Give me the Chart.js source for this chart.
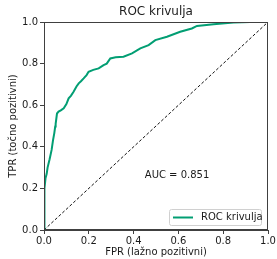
<!DOCTYPE html>
<html><head><meta charset="utf-8">
<script src="https://cdn.jsdelivr.net/npm/chart.js@4.4.0/dist/chart.umd.min.js"></script>
<style>html,body{margin:0;padding:0;background:#fff;}canvas{display:block;}</style>
</head><body>
<canvas id="c" width="277" height="259"></canvas>
<script>
const titleText = "ROC krivulja";
const xLabel = "FPR (lažno pozitivni)";
const yLabel = "TPR (točno pozitivni)";
const seriesLabel = "ROC krivulja";
const aucText = "AUC = 0.851";
const fpr = [0, 0, 0.004, 0.007, 0.012, 0.016, 0.025, 0.034, 0.04, 0.046, 0.05, 0.052, 0.058, 0.065, 0.075, 0.088, 0.10, 0.110, 0.12, 0.132, 0.145, 0.155, 0.165, 0.177, 0.19, 0.199, 0.22, 0.244, 0.266, 0.28, 0.296, 0.32, 0.355, 0.393, 0.43, 0.467, 0.497, 0.549, 0.608, 0.66, 0.683, 0.757, 0.846, 0.92, 1.0];
const tpr = [0, 0.13, 0.2, 0.25, 0.27, 0.30, 0.34, 0.385, 0.43, 0.466, 0.497, 0.51, 0.56, 0.569, 0.575, 0.585, 0.605, 0.633, 0.645, 0.665, 0.69, 0.705, 0.715, 0.729, 0.745, 0.761, 0.77, 0.777, 0.793, 0.80, 0.825, 0.83, 0.833, 0.849, 0.873, 0.889, 0.913, 0.929, 0.953, 0.969, 0.981, 0.989, 0.997, 1.0, 1.0];
const diagX = [0, 1];
const diagY = [0, 1];
const tickValues = [0, 0.2, 0.4, 0.6, 0.8, 1.0];

const FONT = "'DejaVu Sans', sans-serif";
const GREEN = '#029e73';
const SPINE = '#404040';
const TEXT = '#1a1a1a';

const overlay = {
  id: 'overlay',
  afterDraw(chart) {
    const ctx = chart.ctx, a = chart.chartArea;
    const xs = chart.scales.x, ys = chart.scales.y;
    ctx.save();
    ctx.strokeStyle = SPINE; ctx.lineWidth = 1;
    ctx.strokeRect(Math.round(a.left) + 0.5, Math.round(a.top) + 0.5, Math.round(a.right - a.left) - 1, Math.round(a.bottom - a.top) - 1);
    ctx.fillStyle = TEXT;
    ctx.font = '12px ' + FONT;
    ctx.textAlign = 'center'; ctx.textBaseline = 'middle';
    ctx.fillText(titleText, (a.left + a.right) / 2, 12);
    ctx.font = '10px ' + FONT;
    ctx.textAlign = 'left'; ctx.textBaseline = 'middle';
    ctx.fillText(aucText, xs.getPixelForValue(0.45), ys.getPixelForValue(0.264));
    const lx = 169.5, ly = 209.5, lw = 92, lh = 16;
    ctx.beginPath();
    if (ctx.roundRect) ctx.roundRect(lx, ly, lw, lh, 2); else ctx.rect(lx, ly, lw, lh);
    ctx.fillStyle = 'rgba(255,255,255,0.8)'; ctx.fill();
    ctx.strokeStyle = '#d0d0d0'; ctx.lineWidth = 1; ctx.stroke();
    ctx.beginPath(); ctx.moveTo(173, 217.5); ctx.lineTo(193, 217.5);
    ctx.strokeStyle = GREEN; ctx.lineWidth = 2; ctx.stroke();
    ctx.fillStyle = TEXT;
    ctx.fillText(seriesLabel, 201, 217.5);
    ctx.restore();
  }
};

new Chart(document.getElementById('c'), {
  type: 'scatter',
  data: {
    datasets: [
      { label: seriesLabel, data: fpr.map((x, i) => ({x, y: tpr[i]})), showLine: true, borderColor: GREEN, borderWidth: 2, pointRadius: 0, fill: false, tension: 0 },
      { label: 'diag', data: diagX.map((x, i) => ({x, y: diagY[i]})), showLine: true, borderColor: '#111', borderWidth: 1, borderDash: [3, 2], pointRadius: 0, fill: false }
    ]
  },
  options: {
    responsive: false, animation: false, devicePixelRatio: 1,
    layout: { padding: { top: 22, right: 9, left: 0, bottom: 0 } },
    plugins: { legend: { display: false }, title: { display: false }, tooltip: { enabled: false } },
    scales: {
      x: {
        type: 'linear', min: 0, max: 1,
        afterFit(s) { s.height = 29; },
        afterBuildTicks(s) { s.ticks = tickValues.map(v => ({value: v})); },
        ticks: { autoSkip: false, maxRotation: 0, padding: 1, color: TEXT, font: { family: FONT, size: 10 }, callback: v => Number(v).toFixed(1) },
        grid: { drawOnChartArea: false, drawTicks: true, tickLength: 4, color: SPINE },
        border: { display: true, color: SPINE },
        title: { display: true, text: xLabel, color: TEXT, font: { family: FONT, size: 10 }, padding: { top: 0, bottom: 1 } }
      },
      y: {
        type: 'linear', min: 0, max: 1,
        afterFit(s) { s.width = 44; },
        afterBuildTicks(s) { s.ticks = tickValues.map(v => ({value: v})); },
        ticks: { autoSkip: false, padding: 2, color: TEXT, font: { family: FONT, size: 10 }, callback: v => Number(v).toFixed(1) },
        grid: { drawOnChartArea: false, drawTicks: true, tickLength: 4, color: SPINE },
        border: { display: true, color: SPINE },
        title: { display: true, text: yLabel, color: TEXT, font: { family: FONT, size: 10 }, padding: { top: 7, bottom: 0 } }
      }
    }
  },
  plugins: [overlay]
});
</script>
</body></html>
